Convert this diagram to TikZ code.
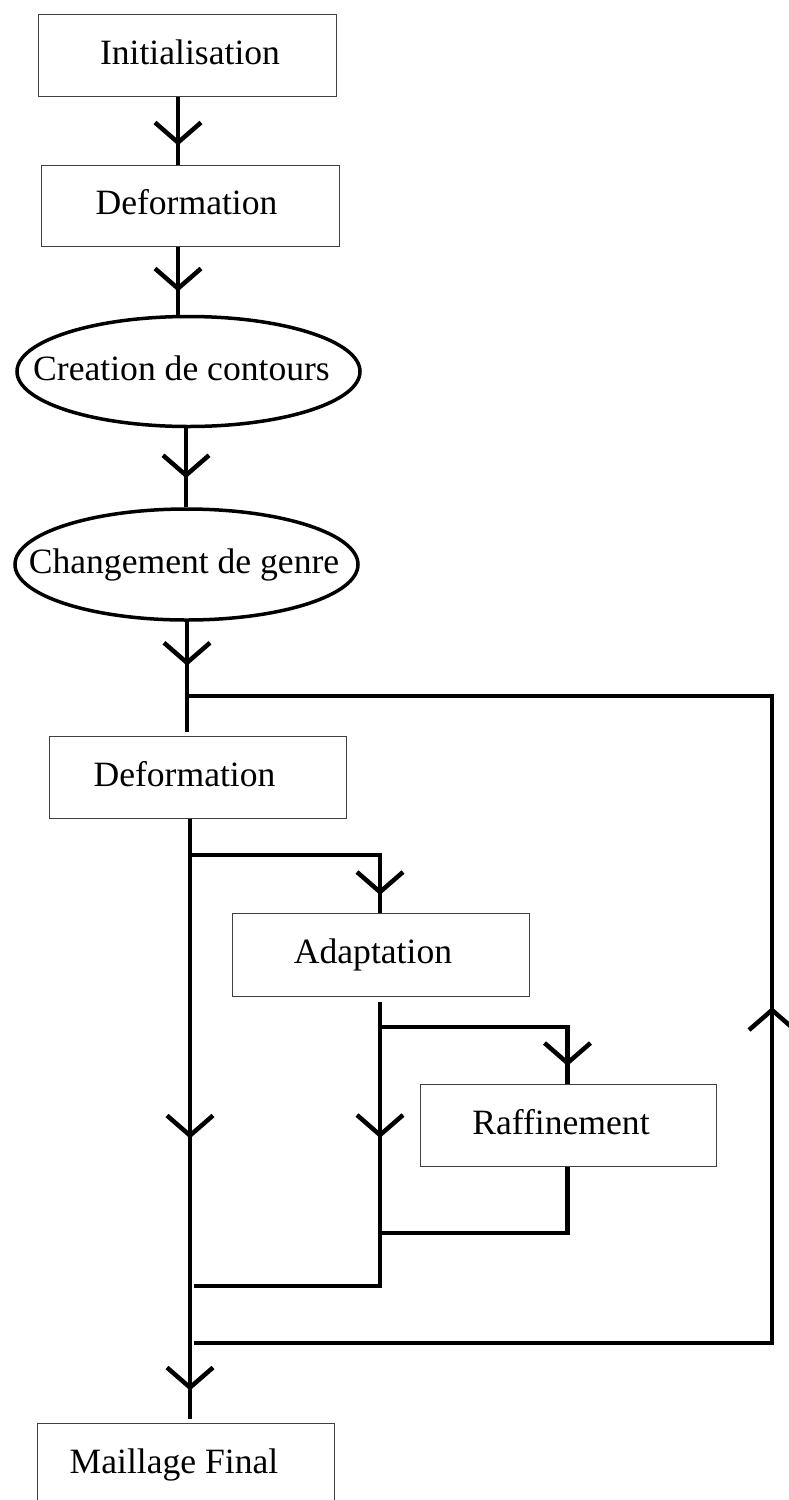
\documentclass[tikz,border=0pt]{standalone}
\usepackage{fontspec}
\setmainfont{Liberation Serif}
\usetikzlibrary{shapes.geometric,decorations.markings}
\newcommand\chevpath{\draw[line width=4.5pt,line cap=butt] (-20pt,-23pt) -- (0pt,0pt) -- (-20pt,23pt);}
\tikzset{
  conn/.style={line width=4.5pt, black},
  lbl/.style={font=\fontsize{35.6}{42}\selectfont, text height=18pt, text depth=0pt},
  boxnode/.style={lbl, draw=black!75, line width=1pt, minimum width=297pt, minimum height=82pt, inner sep=0pt},
  ellnode/.style={lbl, ellipse, draw=black, line width=3.5pt, minimum width=343pt, minimum height=110pt, inner sep=0pt},
  chev/.style={postaction={decorate}, decoration={markings, mark=at position #1 with {\chevpath}}},
  chevtwo/.style 2 args={postaction={decorate}, decoration={markings, mark=at position #1 with {\chevpath}, mark=at position #2 with {\chevpath}}}
}
\begin{document}
\begin{tikzpicture}[x=1pt,y=-1pt]
\useasboundingbox (0,0) rectangle (788,1500);
% nodes
\node[boxnode, minimum width=298pt] (init) at (187,55) {\hspace*{6pt}Initialisation};
\node[boxnode, minimum width=298pt, minimum height=81pt] (def1) at (190,205.5) {Deformation\hspace*{7pt}};
\node[ellnode] (ell1) at (188.5,371.5) {\makebox[0pt]{Creation de contours\hspace*{14pt}}};
\node[ellnode, minimum height=111pt] (ell2) at (186.5,564.5) {\makebox[0pt]{Changement de genre\hspace*{5pt}}};
\node[boxnode] (def2) at (197.5,777) {Deformation\hspace*{26pt}};
\node[boxnode, minimum height=83pt] (adapt) at (380.5,954.5) {Adaptation\hspace*{15pt}};
\node[boxnode, minimum width=296pt] (raff) at (568,1125) {Raffinement\hspace*{14pt}};
\node[boxnode] (maill) at (185.5,1464) {Maillage Final\hspace*{23pt}};
% column coordinates
\coordinate (cA) at (178,0);
\coordinate (cC) at (186,0);
\coordinate (cD) at (187,0);
\coordinate (cM) at (190,0);
\coordinate (cR) at (772,0);
\coordinate (cAd) at (380,0);
\coordinate (cRf) at (567.5,0);
% free ends and corners
\coordinate (dEnd) at (187,732);
\coordinate (mEnd) at (190,1419);
\coordinate (lb) at (194,1343);
\coordinate (lt) at (189,696);
\coordinate (gS) at (192,855);
\coordinate (hS) at (380,1002);
\coordinate (hC) at (380,1286);
\coordinate (hE) at (194,1286);
\coordinate (iS) at (380,1027);
\coordinate (jC) at (567.5,1233);
\coordinate (jE) at (380,1233);
% connectors
\draw[conn, chev=46pt] (init.south -| cA) -- (def1.north -| cA);
\draw[conn, chev=42pt] (def1.south -| cA) -- (ell1.north -| cA);
\draw[conn, chev=47pt] (ell1.south -| cC) -- (ell2.north -| cC);
\draw[conn, chev=41pt] (ell2.south -| cD) -- (dEnd);
\draw[conn, chevtwo={317pt}{569pt}] (def2.south -| cM) -- (mEnd);
\draw[conn, chev=911pt] (lb) -- (lb -| cR) -- (lt -| cR) -- (lt);
\draw[conn, chev=225pt] (gS) -- (gS -| cAd) -- (adapt.north -| cAd);
\draw[conn, chev=133pt] (hS) -- (hC) -- (hE);
\draw[conn, chev=223.5pt] (iS) -- (iS -| cRf) -- (raff.north -| cRf);
\draw[conn] (raff.south -| cRf) -- (jC) -- (jE);
\end{tikzpicture}
\end{document}
